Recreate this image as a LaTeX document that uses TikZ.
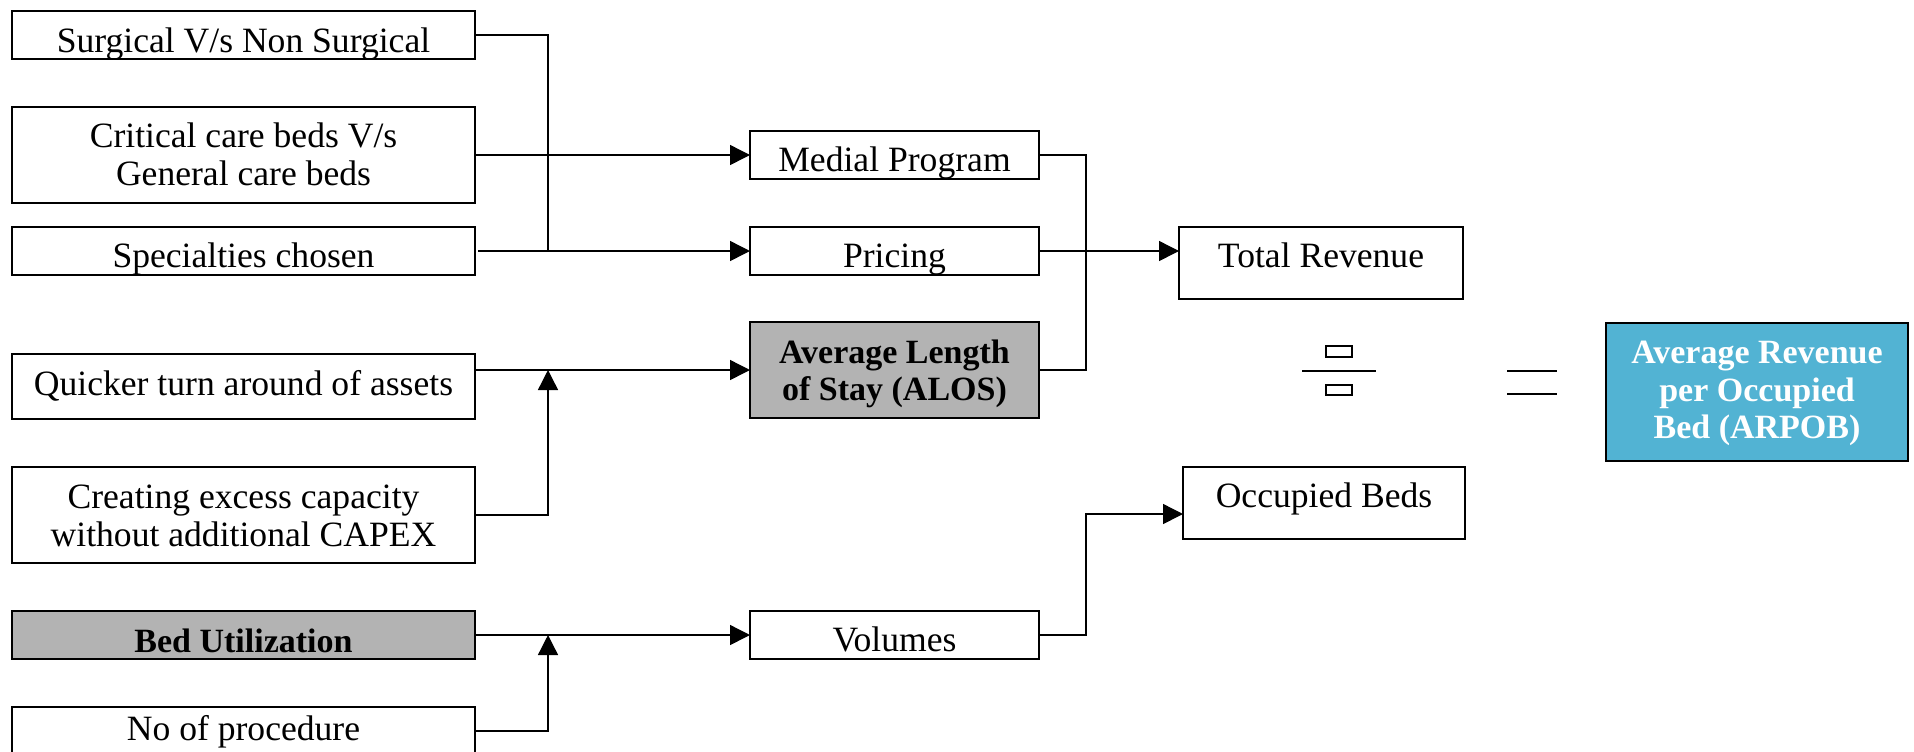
\documentclass[tikz,border=0pt]{standalone}
\usepackage{fontspec}
\setmainfont{Liberation Serif}
\usetikzlibrary{arrows.meta}
\definecolor{boxgray}{RGB}{179,179,179}
\definecolor{arpob}{RGB}{82,179,211}
\begin{document}
\begin{tikzpicture}[x=0.5pt,y=-0.5pt,
  box/.style={draw=black, line width=0.8pt, inner sep=0pt, outer sep=0pt, fill=white},
  graybox/.style={box, fill=boxgray},
  bluebox/.style={box, fill=arpob},
  txt/.style={font=\fontsize{17.8}{19}\selectfont, inner sep=0pt, outer sep=0pt, anchor=base},
  btxt/.style={txt, font=\fontsize{17}{19}\selectfont\bfseries},
  wtxt/.style={btxt, text=white},
  conn/.style={line width=0.7pt},
  arr/.style={conn, -{Triangle[length=10pt,width=10pt]}},
  lc/.style={minimum width=231.5pt},
  mc/.style={minimum width=144.5pt},
  h1/.style={minimum height=24pt},
  h2/.style={minimum height=48pt}]
\clip (0,0) rectangle (1914,751);
\fill[white] (0,0) rectangle (1914,751);

% left column
\node[box,lc,h1] (s1) at (243.5,35) {};
\node[txt] (t1) at (243.5,52) {Surgical V/s Non Surgical};
\node[box,lc,h2] (s2) at (243.5,155) {};
\node[txt] (t2a) at (243.5,147) {Critical care beds V/s};
\node[txt] (t2b) at (243.5,185) {General care beds};
\node[box,lc,h1] (s3) at (243.5,251) {};
\node[txt] (t3) at (243.5,267) {Specialties chosen};
\node[box,lc,minimum height=32.5pt] (s4) at (243.5,386.5) {};
\node[txt] (t4) at (243.5,395) {Quicker turn around of assets};
\node[box,lc,h2] (s5) at (243.5,515) {};
\node[txt] (t5a) at (243.5,508) {Creating excess capacity};
\node[txt] (t5b) at (243.5,546) {without additional CAPEX};
\node[graybox,lc,h1] (s6) at (243.5,635) {};
\node[btxt] (t6) at (243.5,652) {Bed Utilization};
\node[box,lc,h1] (s7) at (243.5,731) {};
\node[txt] (t7) at (243.5,740) {No of procedure};

% middle column
\node[box,mc,h1] (m1) at (894.5,155) {};
\node[txt] (u1) at (894.5,171) {Medial Program};
\node[box,mc,h1] (m2) at (894.5,251) {};
\node[txt] (u2) at (894.5,267) {Pricing};
\node[graybox,mc,h2] (m3) at (894.5,370) {};
\node[btxt] (u3a) at (894.5,363) {Average Length};
\node[btxt] (u3b) at (894.5,400) {of Stay (ALOS)};
\node[box,mc,h1] (m4) at (894.5,635) {};
\node[txt] (u4) at (894.5,651) {Volumes};

% right column
\node[box,minimum width=142pt,minimum height=36pt] (r1) at (1321,263) {};
\node[txt] (v1) at (1321,267) {Total Revenue};
\node[box,minimum width=141pt,minimum height=36pt] (r2) at (1324,503) {};
\node[txt] (v2) at (1324,507) {Occupied Beds};
\node[bluebox,minimum width=151pt,minimum height=69pt] (r3) at (1757,392) {};
\node[wtxt] (w1) at (1757,363) {Average Revenue};
\node[wtxt] (w2) at (1757,401) {per Occupied};
\node[wtxt] (w3) at (1757,438) {Bed (ARPOB)};

% junctions
\coordinate (jL) at (548,251);
\coordinate (jA) at (548,370);
\coordinate (jB) at (548,635);
\coordinate (kM) at (1086,370);
\coordinate (kV) at (1086,514);

% connectors left -> middle
\draw[conn] (s1.east) -| (jL);
\draw[arr] (s2.east) -- (m1.west);
\draw[arr] ([xshift=1.5pt]s3.east) -- (m2.west);
\draw[arr] (s4.east |- m3.west) -- (m3.west);
\draw[arr] (s5.east) -| (jA);
\draw[arr] (s6.east) -- (m4.west);
\draw[arr] (s7.east) -| (jB);

% connectors middle -> right
\draw[conn] (m1.east) -| (kM) -- (m3.east);
\draw[arr] (m2.east) -- (m2.east -| r1.west);
\draw[arr] (m4.east) -| (kV) -- (kV -| r2.west);

% division sign
\draw[line width=0.8pt] (1302,371) -- (1376,371);
\draw[line width=0.7pt] (1326,346) rectangle (1352,357);
\draw[line width=0.7pt] (1326,385) rectangle (1352,395);
% equals sign
\draw[line width=0.8pt] (1507,371) -- (1557,371);
\draw[line width=0.8pt] (1507,394) -- (1557,394);
\end{tikzpicture}
\end{document}
